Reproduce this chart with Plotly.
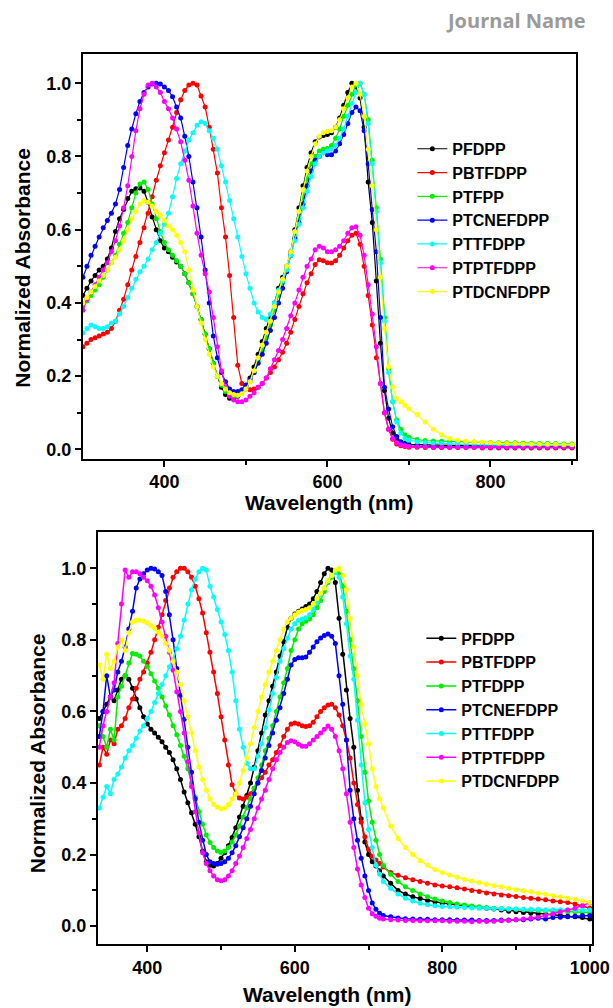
import plotly.graph_objects as go

# ---------------- data ----------------
names_top = ["PFDPP", "PBTFDPP", "PTFPP", "PTCNEFDPP", "PTTFDPP", "PTPTFDPP", "PTDCNFDPP"]
names_bot = ["PFDPP", "PBTFDPP", "PTFDPP", "PTCNEFDPP", "PTTFDPP", "PTPTFDPP", "PTDCNFDPP"]
colors = ["#000000", "#ff0000", "#00ee00", "#0000ff", "#00ffff", "#ff00ff", "#ffff00"]

# wavelength grid of the top panel (nm)
wl_top = list(range(300, 701, 5)) + list(range(710, 901, 10))

top_PFDPP = [
    0.42, 0.44, 0.46, 0.475, 0.49, 0.50, 0.52, 0.55, 0.595, 0.63,
    0.655, 0.685, 0.705, 0.712, 0.714, 0.705, 0.675, 0.635, 0.60, 0.57,
    0.55, 0.54, 0.525, 0.512, 0.50, 0.48, 0.455, 0.425, 0.39, 0.355,
    0.315, 0.275, 0.235, 0.20, 0.17, 0.15, 0.14, 0.138, 0.145, 0.16,
    0.175, 0.195, 0.225, 0.26, 0.295, 0.33, 0.36, 0.40, 0.44, 0.47,
    0.50, 0.54, 0.60, 0.66, 0.72, 0.77, 0.81, 0.84, 0.853, 0.857,
    0.86, 0.865, 0.88, 0.905, 0.94, 0.975, 1.0, 0.99, 0.96, 0.88,
    0.73, 0.62, 0.46, 0.29, 0.16, 0.085, 0.045, 0.028, 0.02, 0.016,
    0.014,
    0.013, 0.012, 0.012, 0.011, 0.011, 0.011, 0.010, 0.010, 0.010, 0.010,
    0.010, 0.009, 0.009, 0.009, 0.009, 0.009, 0.008, 0.008, 0.008, 0.008,
]
top_PBTFDPP = [
    0.28, 0.29, 0.30, 0.305, 0.31, 0.315, 0.32, 0.33, 0.35, 0.38,
    0.41, 0.45, 0.49, 0.527, 0.565, 0.605, 0.645, 0.69, 0.735, 0.775,
    0.81, 0.845, 0.88, 0.92, 0.955, 0.98, 0.995, 1.0, 0.995, 0.965,
    0.935, 0.88, 0.82, 0.755, 0.66, 0.58, 0.475, 0.36, 0.23, 0.18,
    0.165, 0.163, 0.165, 0.17, 0.18, 0.195, 0.21, 0.225, 0.245, 0.265,
    0.29, 0.32, 0.355, 0.39, 0.425, 0.455, 0.48, 0.505, 0.518, 0.515,
    0.51, 0.509, 0.515, 0.53, 0.55, 0.57, 0.585, 0.59, 0.56, 0.50,
    0.42, 0.34, 0.25, 0.18, 0.10, 0.055, 0.028, 0.015, 0.01, 0.008,
    0.006,
    0.006, 0.005, 0.005, 0.005, 0.005, 0.005, 0.005, 0.005, 0.004, 0.004,
    0.004, 0.004, 0.004, 0.004, 0.004, 0.004, 0.004, 0.004, 0.004, 0.004,
]
top_PTFPP = [
    0.39, 0.405, 0.42, 0.435, 0.45, 0.47, 0.49, 0.51, 0.53, 0.56,
    0.59, 0.62, 0.66, 0.70, 0.725, 0.73, 0.71, 0.67, 0.63, 0.595,
    0.565, 0.545, 0.53, 0.515, 0.50, 0.48, 0.455, 0.425, 0.39, 0.355,
    0.315, 0.275, 0.235, 0.20, 0.175, 0.158, 0.148, 0.145, 0.148, 0.158,
    0.17, 0.185, 0.21, 0.24, 0.27, 0.305, 0.34, 0.38, 0.42, 0.455,
    0.49, 0.53, 0.58, 0.63, 0.69, 0.74, 0.78, 0.80, 0.815, 0.82,
    0.822, 0.83, 0.85, 0.875, 0.91, 0.94, 0.97, 0.995, 1.0, 0.97,
    0.90, 0.79, 0.66, 0.52, 0.36, 0.22, 0.13, 0.08, 0.055, 0.04,
    0.033,
    0.027, 0.024, 0.023, 0.022, 0.021, 0.021, 0.020, 0.020, 0.019, 0.019,
    0.018, 0.018, 0.018, 0.017, 0.017, 0.016, 0.016, 0.016, 0.015, 0.015,
]
top_PTCNEFDPP = [
    0.47, 0.50, 0.53, 0.555, 0.58, 0.605, 0.625, 0.645, 0.67, 0.71,
    0.77, 0.83, 0.875, 0.917, 0.95, 0.975, 0.99, 0.998, 1.0, 0.998,
    0.99, 0.98, 0.963, 0.935, 0.905, 0.855, 0.80, 0.73, 0.66, 0.58,
    0.49, 0.40, 0.31, 0.25, 0.21, 0.185, 0.165, 0.158, 0.158, 0.163,
    0.175, 0.19, 0.21, 0.235, 0.26, 0.29, 0.325, 0.36, 0.40, 0.44,
    0.485, 0.53, 0.575, 0.62, 0.67, 0.72, 0.76, 0.79, 0.80, 0.81,
    0.805, 0.805, 0.815, 0.835, 0.86, 0.89, 0.92, 0.935, 0.925, 0.87,
    0.78, 0.655, 0.54, 0.36, 0.17, 0.11, 0.062, 0.035, 0.02, 0.014,
    0.010,
    0.009, 0.008, 0.008, 0.008, 0.007, 0.007, 0.007, 0.007, 0.007, 0.007,
    0.006, 0.006, 0.006, 0.006, 0.006, 0.006, 0.006, 0.006, 0.006, 0.006,
]
top_PTTFDPP = [
    0.318, 0.33, 0.34, 0.335, 0.33, 0.33, 0.335, 0.345, 0.35, 0.37,
    0.39, 0.415, 0.44, 0.465, 0.485, 0.50, 0.52, 0.545, 0.565, 0.59,
    0.615, 0.645, 0.69, 0.74, 0.78, 0.815, 0.845, 0.865, 0.885, 0.895,
    0.89, 0.87, 0.85, 0.82, 0.775, 0.73, 0.68, 0.63, 0.58, 0.527,
    0.48, 0.44, 0.40, 0.375, 0.36, 0.355, 0.37, 0.40, 0.435, 0.46,
    0.49, 0.53, 0.57, 0.615, 0.66, 0.705, 0.745, 0.78, 0.80, 0.81,
    0.815, 0.82, 0.83, 0.85, 0.875, 0.91, 0.945, 0.975, 1.0, 0.97,
    0.89, 0.78, 0.65, 0.51, 0.35, 0.21, 0.13, 0.075, 0.045, 0.03,
    0.025,
    0.021, 0.019, 0.017, 0.016, 0.015, 0.014, 0.013, 0.013, 0.012, 0.012,
    0.012, 0.011, 0.011, 0.011, 0.010, 0.010, 0.010, 0.010, 0.010, 0.010,
]
top_PTPTFDPP = [
    0.38, 0.41, 0.43, 0.45, 0.47, 0.49, 0.51, 0.54, 0.57, 0.61,
    0.66, 0.72, 0.80, 0.87, 0.93, 0.97, 0.995, 1.0, 0.99, 0.975,
    0.95, 0.93, 0.905, 0.875, 0.84, 0.79, 0.735, 0.665, 0.59, 0.53,
    0.48, 0.43, 0.36, 0.28, 0.215, 0.17, 0.145, 0.135, 0.13, 0.13,
    0.135, 0.145, 0.155, 0.17, 0.18, 0.195, 0.22, 0.245, 0.27, 0.30,
    0.33, 0.365, 0.40, 0.435, 0.47, 0.50, 0.52, 0.545, 0.555, 0.55,
    0.54, 0.54, 0.545, 0.555, 0.57, 0.59, 0.605, 0.608, 0.585, 0.53,
    0.45, 0.37, 0.28, 0.18, 0.10, 0.055, 0.03, 0.018, 0.012, 0.01,
    0.008,
    0.007, 0.007, 0.006, 0.006, 0.006, 0.006, 0.006, 0.006, 0.006, 0.006,
    0.006, 0.006, 0.006, 0.006, 0.006, 0.006, 0.006, 0.006, 0.006, 0.006,
]
top_PTDCNFDPP = [
    0.40, 0.415, 0.43, 0.445, 0.46, 0.475, 0.49, 0.51, 0.525, 0.545,
    0.57, 0.60, 0.63, 0.65, 0.67, 0.68, 0.675, 0.665, 0.65, 0.64,
    0.625, 0.61, 0.60, 0.585, 0.565, 0.54, 0.49, 0.435, 0.39, 0.345,
    0.30, 0.26, 0.225, 0.20, 0.18, 0.165, 0.155, 0.15, 0.148, 0.152,
    0.165, 0.185, 0.215, 0.25, 0.285, 0.32, 0.35, 0.39, 0.43, 0.465,
    0.50, 0.54, 0.595, 0.65, 0.71, 0.76, 0.80, 0.835, 0.855, 0.865,
    0.868, 0.87, 0.88, 0.90, 0.93, 0.96, 0.99, 1.0, 0.97, 0.91,
    0.82, 0.72, 0.60, 0.47, 0.33, 0.225, 0.17, 0.14, 0.13, 0.12,
    0.11,
    0.095, 0.075, 0.055, 0.04, 0.03, 0.025, 0.022, 0.02, 0.02, 0.018,
    0.017, 0.016, 0.016, 0.015, 0.015, 0.014, 0.014, 0.014, 0.013, 0.013,
]

# wavelength grid of the bottom panel (nm)
wl_bot = list(range(335, 716, 5)) + list(range(720, 1001, 10))

bot_PFDPP = [
    0.58, 0.60, 0.62, 0.64, 0.63, 0.66, 0.69, 0.70, 0.69, 0.665,
    0.635, 0.61, 0.585, 0.565, 0.55, 0.54, 0.528, 0.515, 0.50, 0.485,
    0.465, 0.44, 0.41, 0.375, 0.345, 0.317, 0.285, 0.25, 0.21, 0.18,
    0.17, 0.168, 0.175, 0.19, 0.205, 0.225, 0.248, 0.275, 0.305, 0.335,
    0.365, 0.40, 0.445, 0.49, 0.54, 0.59, 0.63, 0.67, 0.71, 0.755,
    0.795, 0.835, 0.86, 0.872, 0.88, 0.886, 0.893, 0.90, 0.915, 0.935,
    0.96, 0.985, 1.0, 0.995, 0.96, 0.86, 0.76, 0.66, 0.58, 0.50,
    0.38, 0.30, 0.235, 0.20, 0.18, 0.168, 0.155,
    0.14, 0.12, 0.10, 0.09, 0.082, 0.077, 0.072, 0.068, 0.065, 0.062,
    0.06, 0.058, 0.055, 0.052, 0.05, 0.048, 0.045, 0.042, 0.04, 0.038,
    0.036, 0.034, 0.033, 0.032, 0.03, 0.028, 0.026, 0.024, 0.02,
]
bot_PBTFDPP = [
    0.45, 0.50, 0.48, 0.52, 0.51, 0.55, 0.56, 0.58, 0.61, 0.635,
    0.665, 0.69, 0.71, 0.735, 0.765, 0.80, 0.835, 0.87, 0.91, 0.945,
    0.975, 0.99, 1.0, 1.0, 0.99, 0.975, 0.95, 0.915, 0.875, 0.82,
    0.765, 0.71, 0.65, 0.585, 0.52, 0.45, 0.395, 0.37, 0.358, 0.355,
    0.36, 0.37, 0.385, 0.40, 0.415, 0.43, 0.45, 0.465, 0.485, 0.505,
    0.53, 0.55, 0.565, 0.568, 0.565, 0.56, 0.558, 0.56, 0.57, 0.585,
    0.60, 0.61, 0.618, 0.62, 0.61, 0.59, 0.56, 0.52, 0.47, 0.40,
    0.34, 0.29, 0.25, 0.215, 0.195, 0.185, 0.175,
    0.165, 0.15, 0.142, 0.135, 0.13, 0.125, 0.12, 0.115, 0.112, 0.11,
    0.107, 0.104, 0.10, 0.097, 0.093, 0.09, 0.087, 0.085, 0.083, 0.08,
    0.078, 0.076, 0.074, 0.07, 0.068, 0.066, 0.062, 0.057, 0.05,
]
bot_PTFDPP = [
    0.56, 0.53, 0.50, 0.55, 0.52, 0.64, 0.67, 0.70, 0.735, 0.762,
    0.76, 0.755, 0.74, 0.725, 0.705, 0.685, 0.665, 0.64, 0.615, 0.59,
    0.56, 0.535, 0.505, 0.475, 0.44, 0.40, 0.36, 0.32, 0.285, 0.255,
    0.234, 0.22, 0.21, 0.206, 0.21, 0.22, 0.235, 0.255, 0.28, 0.305,
    0.33, 0.355, 0.385, 0.415, 0.45, 0.49, 0.525, 0.56, 0.60, 0.64,
    0.68, 0.72, 0.77, 0.80, 0.83, 0.845, 0.852, 0.858, 0.87, 0.89,
    0.91, 0.935, 0.96, 0.975, 0.99, 0.985, 0.95, 0.88, 0.80, 0.72,
    0.63, 0.53, 0.43, 0.35, 0.29, 0.24, 0.20,
    0.17, 0.145, 0.125, 0.11, 0.10, 0.09, 0.082, 0.076, 0.07, 0.066,
    0.062, 0.059, 0.056, 0.054, 0.052, 0.05, 0.049, 0.048, 0.047, 0.046,
    0.045, 0.044, 0.043, 0.042, 0.041, 0.04, 0.04, 0.039, 0.038,
]
bot_PTCNEFDPP = [
    0.53, 0.60, 0.70, 0.64, 0.66, 0.71, 0.74, 0.78, 0.83, 0.88,
    0.945, 0.97, 0.985, 0.995, 1.0, 0.998, 0.99, 0.98, 0.935, 0.87,
    0.80, 0.72, 0.645, 0.578, 0.50, 0.43, 0.355, 0.29, 0.24, 0.20,
    0.18, 0.175, 0.173, 0.175, 0.18, 0.19, 0.205, 0.225, 0.25, 0.275,
    0.30, 0.335, 0.37, 0.40, 0.435, 0.47, 0.505, 0.54, 0.575, 0.61,
    0.65, 0.69, 0.73, 0.745, 0.75, 0.75, 0.752, 0.765, 0.78, 0.795,
    0.805, 0.812, 0.816, 0.81, 0.79, 0.70, 0.62, 0.52, 0.38, 0.30,
    0.24, 0.19, 0.14, 0.10, 0.065, 0.047, 0.036,
    0.03, 0.026, 0.023, 0.021, 0.02, 0.019, 0.019, 0.018, 0.018, 0.018,
    0.017, 0.017, 0.017, 0.016, 0.016, 0.016, 0.017, 0.017, 0.018, 0.018,
    0.02, 0.022, 0.02, 0.024, 0.025, 0.026, 0.028, 0.03, 0.03,
]
bot_PTTFDPP = [
    0.33, 0.36, 0.39, 0.37, 0.41, 0.425, 0.445, 0.47, 0.49, 0.505,
    0.525, 0.545, 0.56, 0.58, 0.60, 0.625, 0.65, 0.675, 0.70, 0.725,
    0.745, 0.775, 0.81, 0.855, 0.90, 0.94, 0.97, 0.99, 1.0, 0.995,
    0.95, 0.92, 0.885, 0.85, 0.815, 0.77, 0.71, 0.63, 0.55, 0.50,
    0.455, 0.44, 0.44, 0.475, 0.51, 0.555, 0.605, 0.65, 0.695, 0.74,
    0.775, 0.805, 0.83, 0.845, 0.855, 0.858, 0.862, 0.87, 0.885, 0.905,
    0.925, 0.945, 0.965, 0.98, 0.988, 0.975, 0.92, 0.845, 0.755, 0.69,
    0.575, 0.45, 0.345, 0.27, 0.22, 0.17, 0.145,
    0.125, 0.105, 0.09, 0.078, 0.07, 0.064, 0.06, 0.057, 0.055, 0.054,
    0.053, 0.052, 0.051, 0.05, 0.05, 0.049, 0.049, 0.048, 0.048, 0.047,
    0.047, 0.047, 0.046, 0.046, 0.046, 0.045, 0.045, 0.045, 0.045,
]
bot_PTPTFDPP = [
    0.50, 0.56, 0.60, 0.64, 0.68, 0.79, 0.90, 0.995, 0.975, 0.99,
    0.99, 0.985, 0.975, 0.965, 0.95, 0.925, 0.89, 0.85, 0.81, 0.765,
    0.715, 0.655, 0.60, 0.54, 0.46, 0.39, 0.32, 0.26, 0.205, 0.175,
    0.155, 0.14, 0.13, 0.127, 0.13, 0.14, 0.155, 0.175, 0.196, 0.22,
    0.245, 0.27, 0.30, 0.33, 0.355, 0.38, 0.41, 0.44, 0.465, 0.485,
    0.50, 0.513, 0.518, 0.515, 0.508, 0.503, 0.503, 0.51, 0.52, 0.53,
    0.54, 0.55, 0.559, 0.55, 0.53, 0.49, 0.44, 0.37, 0.29, 0.22,
    0.16, 0.115, 0.08, 0.05, 0.035, 0.028, 0.022,
    0.02, 0.018, 0.017, 0.016, 0.016, 0.015, 0.015, 0.015, 0.015, 0.014,
    0.014, 0.014, 0.012, 0.014, 0.013, 0.014, 0.015, 0.016, 0.018, 0.02,
    0.022, 0.025, 0.03, 0.035, 0.04, 0.045, 0.05, 0.058, 0.065,
]
bot_PTDCNFDPP = [
    0.73, 0.69, 0.76, 0.72, 0.74, 0.78, 0.80, 0.77, 0.82, 0.85,
    0.855, 0.855, 0.852, 0.848, 0.84, 0.832, 0.822, 0.81, 0.79, 0.77,
    0.74, 0.71, 0.675, 0.63, 0.585, 0.54, 0.49, 0.445, 0.41, 0.38,
    0.355, 0.34, 0.332, 0.328, 0.33, 0.34, 0.355, 0.37, 0.40, 0.435,
    0.47, 0.51, 0.555, 0.60, 0.64, 0.675, 0.71, 0.74, 0.77, 0.80,
    0.83, 0.85, 0.86, 0.87, 0.878, 0.882, 0.885, 0.89, 0.90, 0.915,
    0.93, 0.945, 0.965, 0.98, 0.995, 1.0, 0.98, 0.94, 0.86, 0.78,
    0.70, 0.62, 0.565, 0.51, 0.44, 0.39, 0.355,
    0.33, 0.28, 0.245, 0.22, 0.20, 0.183, 0.17, 0.158, 0.15, 0.143,
    0.137, 0.131, 0.126, 0.122, 0.117, 0.113, 0.11, 0.106, 0.102, 0.099,
    0.096, 0.092, 0.089, 0.085, 0.082, 0.078, 0.075, 0.07, 0.066,
]

top_series = [top_PFDPP, top_PBTFDPP, top_PTFPP, top_PTCNEFDPP,
              top_PTTFDPP, top_PTPTFDPP, top_PTDCNFDPP]
bot_series = [bot_PFDPP, bot_PBTFDPP, bot_PTFDPP, bot_PTCNEFDPP,
              bot_PTTFDPP, bot_PTPTFDPP, bot_PTDCNFDPP]

top_xticks = [400, 600, 800]
bot_xticks = [400, 600, 800, 1000]
y_ticks = [0.0, 0.2, 0.4, 0.6, 0.8, 1.0]

# ---------------- figure ----------------
W, H = 613, 1008          # target picture size
FIG_W = 630               # page width seen by the browser
FONT = "Liberation Sans, Arial, Helvetica, sans-serif"

fig = go.Figure()
for name, col, ys in zip(names_top, colors, top_series):
    fig.add_trace(go.Scatter(
        x=wl_top, y=ys, name=name, mode="lines+markers",
        line=dict(color=col, width=1.2),
        marker=dict(color=col, size=5),
        xaxis="x", yaxis="y", legend="legend"))
for name, col, ys in zip(names_bot, colors, bot_series):
    fig.add_trace(go.Scatter(
        x=wl_bot, y=ys, name=name, mode="lines+markers",
        line=dict(color=col, width=1.5),
        marker=dict(color=col, size=5),
        xaxis="x2", yaxis="y2", legend="legend2"))

tickfont = dict(family=FONT, size=18, color="black", weight="bold")
common = dict(showline=True, linecolor="black", linewidth=2, mirror=True,
              ticks="outside", ticklen=6, tickwidth=2, tickcolor="black",
              showgrid=False, zeroline=False, tickfont=tickfont)
minor_y = dict(ticks="outside", ticklen=4, tickwidth=2, tickcolor="black",
               tickvals=[0.1, 0.3, 0.5, 0.7, 0.9])
minor_x = dict(ticks="outside", ticklen=4, tickwidth=2, tickcolor="black",
               tickvals=[500, 700, 900])

def px_x(p):
    return p / W

def px_y(p):
    return 1 - p / H

fig.update_layout(
    width=FIG_W, height=H, autosize=False,
    margin=dict(l=0, r=0, t=0, b=0),
    paper_bgcolor="white", plot_bgcolor="white",
    xaxis=dict(domain=[px_x(83), px_x(577)], range=[300, 905],
               tickvals=top_xticks, anchor="y", minor=minor_x, **common),
    yaxis=dict(domain=[px_y(459), px_y(54)], range=[-0.025, 1.08],
               tickvals=y_ticks, tickformat=".1f", anchor="x", minor=minor_y, **common),
    xaxis2=dict(domain=[px_x(98), px_x(593)], range=[333, 1003],
                tickvals=bot_xticks, anchor="y2", minor=minor_x, **common),
    yaxis2=dict(domain=[px_y(945), px_y(533)], range=[-0.05, 1.1],
                tickvals=y_ticks, tickformat=".1f", anchor="x2", minor=minor_y, **common),
    legend=dict(x=px_x(413), y=px_y(132), xanchor="left", yanchor="top",
                bgcolor="rgba(0,0,0,0)", borderwidth=0,
                font=dict(family=FONT, size=16, color="black", weight="bold")),
    legend2=dict(x=px_x(422), y=px_y(622), xanchor="left", yanchor="top",
                 bgcolor="rgba(0,0,0,0)", borderwidth=0,
                 font=dict(family=FONT, size=16, color="black", weight="bold")),
    showlegend=True,
)

title_font = dict(family=FONT, size=21, color="black", weight="bold")
fig.add_annotation(text="Journal Name", x=px_x(589), y=px_y(21), xref="paper", yref="paper",
                   xanchor="right", yanchor="middle", showarrow=False,
                   font=dict(family="Open Sans, sans-serif", size=20, color="#9a9a9a", weight="bold"))
fig.add_annotation(text="Wavelength (nm)", x=px_x(330), y=px_y(503), xref="paper", yref="paper",
                   xanchor="center", yanchor="middle", showarrow=False, font=title_font)
fig.add_annotation(text="Normalized Absorbance", x=px_x(23), y=px_y(268), xref="paper", yref="paper",
                   xanchor="center", yanchor="middle", textangle=-90, showarrow=False, font=title_font)
fig.add_annotation(text="Wavelength (nm)", x=px_x(328), y=px_y(995), xref="paper", yref="paper",
                   xanchor="center", yanchor="middle", showarrow=False, font=title_font)
fig.add_annotation(text="Normalized Absorbance", x=px_x(37), y=px_y(754), xref="paper", yref="paper",
                   xanchor="center", yanchor="middle", textangle=-90, showarrow=False, font=title_font)

fig.write_html(
    "out.html",
    config={"displayModeBar": False, "responsive": False},
    post_script=("document.documentElement.style.overflow='hidden';"
                 "document.body.style.margin='0px';document.body.style.overflow='hidden';"),
)
